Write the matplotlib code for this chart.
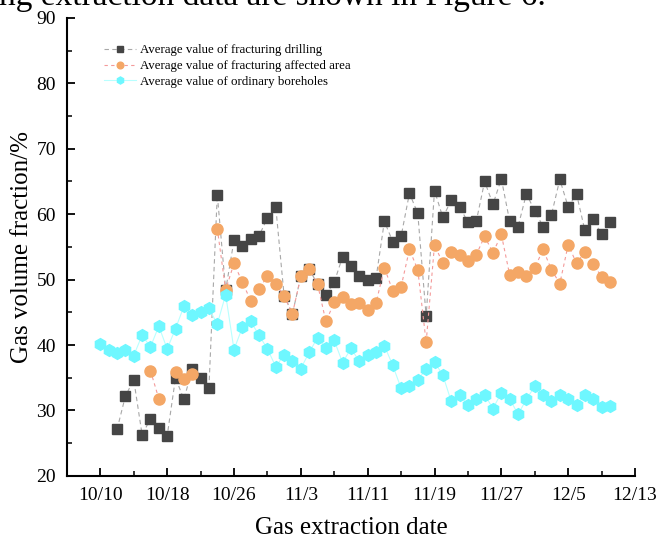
import numpy as np
import pandas as pd
import matplotlib
matplotlib.use("Agg")
import matplotlib.pyplot as plt
from matplotlib.ticker import FixedLocator, FuncFormatter
import matplotlib.dates as mdates

plt.rcParams['font.family'] = ['Liberation Serif', 'DejaVu Serif']

# daily readings from 10/10 to 12/10
dates = pd.date_range("2023-10-10", periods=62, freq="D")
nan = np.nan

fracturing_drilling = [
    nan, nan, 27.1, 32.2, 34.7, 26.3, 28.7, 27.3, 26.1, 35.0,
    31.7, 36.3, 35.0, 33.5, 63.0, 48.4, 56.0, 55.2, 56.2, 56.7,
    59.4, 61.1, 47.5, 44.8, 50.5, 51.6, 49.3, 47.7, 49.6, 53.5,
    52.1, 50.5, 49.9, 50.2, 58.9, 55.8, 56.6, 63.2, 60.1, 44.4,
    63.6, 59.5, 62.1, 61.1, 58.8, 58.9, 65.0, 61.5, 65.4, 58.9,
    58.1, 63.1, 60.5, 58.1, 59.9, 65.3, 61.1, 63.1, 57.5, 59.2,
    56.9, 58.8,
]
affected_area = [
    nan, nan, nan, nan, nan, nan, 36.1, 31.8, nan, 35.9,
    34.8, 35.6, nan, nan, 57.8, 48.4, 52.5, 49.6, 46.8, 48.5,
    50.6, 49.3, 47.5, 44.8, 50.5, 51.6, 49.3, 43.6, 46.5, 47.3,
    46.3, 46.4, 45.3, 46.4, 51.8, 48.3, 48.9, 54.6, 51.5, 40.4,
    55.3, 52.5, 54.2, 53.7, 52.9, 53.8, 56.6, 54.1, 56.9, 50.7,
    51.2, 50.5, 51.8, 54.6, 51.5, 49.4, 55.3, 52.5, 54.2, 52.4,
    50.4, 49.7,
]
ordinary_boreholes = [
    40.1, 39.2, 38.8, 39.2, 38.4, 41.5, 39.7, 42.9, 39.4, 42.5,
    45.9, 44.6, 45.1, 45.6, 43.2, 47.7, 39.3, 42.7, 43.6, 41.5,
    39.4, 36.7, 38.5, 37.5, 36.4, 38.9, 41.1, 39.6, 40.7, 37.3,
    39.5, 37.5, 38.5, 38.9, 39.9, 36.9, 33.4, 33.7, 34.6, 36.4,
    37.4, 35.4, 31.4, 32.4, 30.8, 31.8, 32.4, 30.3, 32.7, 31.8,
    29.4, 31.7, 33.7, 32.4, 31.4, 32.4, 31.8, 30.8, 32.3, 31.7,
    30.5, 30.7,
]

fig = plt.figure(figsize=(6.56, 5.39), dpi=100)
ax = fig.add_axes([0.102, 0.117, 0.866, 0.85])

ax.plot(dates, fracturing_drilling, color='#a8a8a8', ls=(0, (4, 3)), lw=0.8,
        marker='s', ms=7, mfc='#454545', mec='#454545',
        label='Average value of fracturing drilling')
ax.plot(dates, affected_area, color='#f49a9a', ls=(0, (3, 3)), lw=0.8,
        marker='o', ms=8, mfc='#f4a766', mec='#f4a766',
        label='Average value of fracturing affected area')
ax.plot(dates, ordinary_boreholes, color='#b8ffff', ls='-', lw=0.8,
        marker='h', ms=8.5, mfc='#6ef7ff', mec='#6ef7ff',
        label='Average value of ordinary boreholes')

ax.set_xlim(pd.Timestamp("2023-10-06"), pd.Timestamp("2023-12-13"))
ax.set_ylim(20, 90)

major = pd.date_range("2023-10-10", "2023-12-13", freq="8D")
minor = pd.date_range("2023-10-06", "2023-12-13", freq="4D")
ax.xaxis.set_major_locator(FixedLocator(mdates.date2num(major)))
ax.xaxis.set_minor_locator(FixedLocator(mdates.date2num(minor)))
ax.xaxis.set_major_formatter(FuncFormatter(
    lambda v, p: f"{mdates.num2date(v).month}/{mdates.num2date(v).day}"))
ax.set_yticks(np.arange(20, 91, 10))
ax.set_yticks(np.arange(25, 90, 10), minor=True)

ax.spines['top'].set_visible(False)
ax.spines['right'].set_visible(False)
ax.spines['left'].set_linewidth(1.5)
ax.spines['bottom'].set_linewidth(1.5)
ax.tick_params(which='major', direction='in', length=6, width=1.3, labelsize=14, pad=8)
ax.tick_params(which='minor', direction='in', length=3.5, width=1.1)

ax.set_xlabel('Gas extraction date', fontsize=18, labelpad=9)
ax.set_ylabel('Gas volume fraction/%', fontsize=18, labelpad=2)

ax.legend(loc='upper left', bbox_to_anchor=(0.045, 0.968), frameon=False,
          fontsize=9.3, markerscale=0.6, handlelength=2.5, labelspacing=0.3,
          handletextpad=0.3)

# tail of the paper's sentence above the figure, cut off by the page crop
fig.text(-0.002, 1 - 5 / 539, 'ng extraction data are shown in Figure 6.',
         fontsize=24, va='baseline', ha='left')

fig.savefig('out.png', dpi=100)
